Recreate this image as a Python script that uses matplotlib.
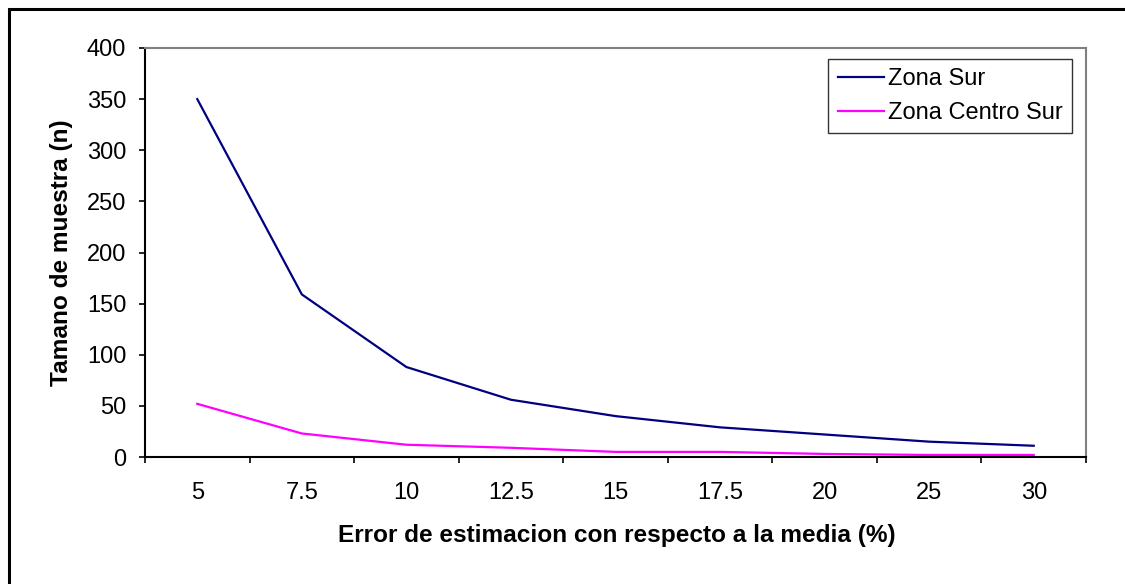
import matplotlib
matplotlib.use("Agg")
import matplotlib.pyplot as plt
from matplotlib.patches import Rectangle

categories = ["5", "7.5", "10", "12.5", "15", "17.5", "20", "25", "30"]
zona_sur = [350, 159, 88, 56, 40, 29, 22, 15, 11]
zona_centro_sur = [52, 23, 12, 9, 5, 5, 3, 2, 2]
y_ticks = [0, 50, 100, 150, 200, 250, 300, 350, 400]

plt.rcParams['font.family'] = ['Liberation Sans', 'DejaVu Sans']

W, H = 1125, 584
fig = plt.figure(figsize=(W / 100, H / 100), dpi=100)

# outer chart border (only left and top visible in the crop)
fig.patches.append(Rectangle((9 / W, -0.05), 1.2, 1 - 9 / H + 0.05, transform=fig.transFigure,
                             fill=False, edgecolor='black', linewidth=2.2))

left, right, top, bottom = 145, 1086, 48, 457
ax = fig.add_axes([left / W, 1 - bottom / H, (right - left) / W, (bottom - top) / H])

x = list(range(len(categories)))
ax.plot(x, zona_sur, color='#000080', linewidth=1.6, label='Zona Sur')
ax.plot(x, zona_centro_sur, color='#FF00FF', linewidth=1.6, label='Zona Centro Sur')

FS = 17
FSL = 17.6
ax.set_xlim(-0.5, len(categories) - 0.5)
ax.set_ylim(0, 400)
ax.set_yticks(y_ticks)
ax.set_xticks(x)
ax.set_xticklabels(categories)
ax.set_xticks([i - 0.5 for i in range(len(categories) + 1)], minor=True)
ax.tick_params(axis='x', which='major', length=0, pad=18, labelsize=FS)
ax.tick_params(axis='x', which='minor', length=4.5, width=1.2, direction='out', color='black')
ax.tick_params(axis='y', length=4.5, width=1.2, direction='out', labelsize=FS, pad=9)

for s in ['top', 'right']:
    ax.spines[s].set_color('#808080')
    ax.spines[s].set_linewidth(1.5)
for s in ['left', 'bottom']:
    ax.spines[s].set_color('black')
    ax.spines[s].set_linewidth(1.5)

fig.text(617 / W, 1 - 542 / H, 'Error de estimacion con respecto a la media (%)',
         fontsize=FSL, fontweight='bold', ha='center', va='baseline')
fig.text(68 / W, 1 - 252.5 / H, 'Tamano de muestra (n)', fontsize=FSL, fontweight='bold',
         rotation=90, ha='center', va='baseline', rotation_mode='anchor')

leg = ax.legend(loc='upper right', bbox_to_anchor=((1072 - left) / (right - left), (bottom - 59) / (bottom - top)),
                fontsize=FS, frameon=True, fancybox=False, edgecolor='black', handlelength=1.95,
                handletextpad=0.17, borderpad=0.4, labelspacing=0.48, borderaxespad=0)
leg.get_frame().set_linewidth(1.0)

fig.savefig('out.png', dpi=100)
